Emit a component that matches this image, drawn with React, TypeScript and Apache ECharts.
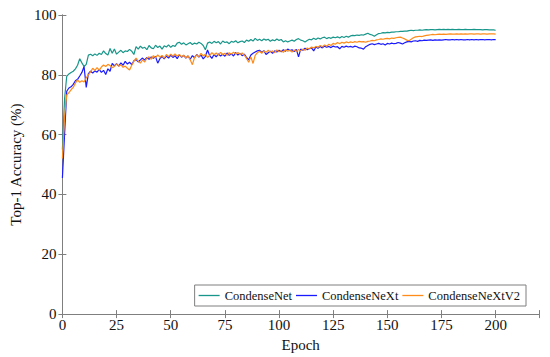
import React, { useEffect, useRef } from "react";
import * as echarts from "echarts";

const seriesNames = ["CondenseNet", "CondenseNeXt", "CondenseNeXtV2"];
const seriesColors = ["#18968a", "#1a1aff", "#ff8c1a"];

// Top-1 accuracy per epoch (epochs 0..200)
const condenseNet = [
  55, 72, 79.5, 80.3, 80.8, 81.2, 82.0, 83.2, 85.4, 84.0,
  82.8, 83.5, 86.6, 86.9, 86.4, 87.0, 86.5, 87.2, 86.8, 88.0,
  87.1, 86.6, 88.8, 87.2, 88.6, 86.9, 87.6, 88.2, 87.4, 88.0,
  87.8, 88.5, 87.9, 86.8, 89.4, 88.6, 89.6, 88.9, 89.2, 88.4,
  89.8, 89.0, 88.7, 89.9, 89.1, 89.6, 88.6, 89.7, 89.3, 90.0,
  89.2, 89.8, 89.5, 90.6, 90.9, 90.2, 90.7, 90.0, 90.4, 90.8,
  90.1, 90.6, 90.3, 90.9, 90.5, 89.8, 88.4, 90.6, 91.0, 90.5,
  91.2, 90.7, 91.1, 90.3, 91.3, 90.8, 91.0, 90.4, 91.2, 90.9,
  91.4, 90.7, 91.1, 91.3, 90.8, 91.6, 91.2, 91.8, 91.3, 92.2,
  91.5, 91.9, 91.4, 92.0, 91.6, 91.9, 91.2, 91.7, 91.4, 92.0,
  91.5, 91.8, 91.0, 91.4, 91.0, 91.3, 91.6, 91.2, 91.8, 92.1,
  91.6, 91.4, 91.0, 91.5, 91.9, 91.7, 92.2, 91.8, 92.3, 92.0,
  92.4, 92.6, 92.1, 92.5, 92.2, 92.6, 92.4, 92.7, 92.3, 92.8,
  92.5, 92.9, 92.6, 93.0, 93.2, 93.1, 93.3, 93.2, 93.4, 93.3,
  93.6, 93.9, 93.5, 93.3, 92.9, 93.4, 93.8, 93.9, 94.1, 94.0,
  94.2, 94.1, 94.3, 94.3, 94.4, 94.4, 94.5, 94.5, 94.6, 94.6,
  94.8, 94.9, 94.8, 94.9, 94.9, 95.0, 94.9, 95.0, 95.1, 95.0,
  95.1, 95.1, 95.0, 95.1, 95.2, 95.1, 95.2, 95.1, 95.2, 95.1,
  95.2, 95.1, 95.1, 95.2, 95.1, 95.1, 95.2, 95.1, 95.1, 95.1,
  95.2, 95.1, 95.1, 95.1, 95.0, 95.1, 95.1, 95.0, 95.0, 95.0,
  94.9,
];

const condenseNeXt = [
  45.5, 60, 74.5, 75.6, 76.0, 76.8, 78.0, 78.5, 79.6, 80.8,
  82.8, 75.8, 80.4, 81.2, 80.6, 81.3, 80.9, 81.8, 80.8, 81.5,
  80.1, 82.0, 81.2, 83.8, 83.0, 83.7, 82.9, 84.0, 83.2, 84.5,
  83.6, 84.2, 83.4, 84.7, 85.1, 84.3, 85.0, 85.6, 84.9, 85.8,
  85.2, 86.0, 85.5, 86.1, 83.9, 85.4, 86.2, 85.3, 86.3, 85.6,
  86.6, 85.8, 86.4, 85.4, 86.7, 85.9, 86.5, 85.6, 86.3, 85.2,
  86.4, 85.7, 86.8, 85.9, 86.6, 85.3, 86.2, 88.3, 86.4, 85.5,
  86.8, 86.0, 87.0, 86.3, 86.9, 86.2, 87.3, 86.5, 87.0, 86.3,
  87.4, 86.6, 87.1, 86.4, 86.9, 85.8, 85.0, 86.6, 87.2, 87.6,
  88.0, 88.2, 87.5, 88.1, 86.8, 87.4, 87.9, 87.2, 88.0, 87.6,
  88.2, 87.7, 88.4, 87.9, 88.6, 88.1, 88.4, 87.8, 88.5, 86.0,
  88.6, 88.2, 88.9, 88.4, 88.8, 89.0, 88.0, 89.3, 88.9, 89.5,
  89.0, 89.6, 89.2, 89.5, 89.1, 89.6, 89.3, 89.4, 88.7, 89.5,
  89.2, 89.6, 89.3, 89.5, 89.2, 89.6, 89.4, 89.0, 88.9, 88.6,
  89.4, 89.8, 90.2, 90.4, 90.1, 90.3, 90.5, 90.2, 90.4, 90.0,
  90.5, 90.3, 90.6, 90.4, 90.5, 90.8, 90.6, 90.3, 90.7, 91.0,
  91.2, 91.0, 91.3, 91.4, 91.2, 91.5, 91.4, 91.6, 91.5, 91.6,
  91.7, 91.5, 91.7, 91.6, 91.7, 91.6, 91.7, 91.8, 91.7, 91.7,
  91.8, 91.7, 91.8, 91.7, 91.8, 91.7, 91.7, 91.8, 91.7, 91.8,
  91.7, 91.8, 91.7, 91.8, 91.8, 91.7, 91.8, 91.8, 91.7, 91.8,
  91.8,
];

const condenseNeXtV2 = [
  52, 66, 73.3, 74.0, 75.0, 75.8, 77.2, 78.3, 77.5, 78.0,
  77.6, 79.0, 80.0, 81.0, 82.2, 81.5, 82.4, 81.6, 82.6, 83.3,
  82.8, 83.5, 83.1, 82.4, 82.8, 83.6, 82.9, 83.4, 82.5, 82.9,
  82.2, 81.6, 83.2, 84.5, 85.6, 84.6, 83.9, 85.0, 84.3, 85.6,
  86.0, 85.2, 86.4, 85.7, 86.7, 85.9, 86.5, 85.6, 86.8, 86.1,
  86.9, 86.3, 87.0, 86.2, 86.8, 86.0, 86.6, 85.7, 86.4, 85.0,
  83.4, 85.8, 86.7, 86.0, 87.2, 86.3, 86.9, 85.8, 86.5, 87.4,
  86.7, 87.3, 86.6, 87.5, 86.8, 87.2, 86.5, 87.4, 86.9, 87.6,
  87.0, 87.5, 86.8, 87.3, 86.6, 85.5, 84.2, 86.0, 83.8, 86.5,
  87.4, 87.9, 87.2, 88.0, 87.5, 88.2, 87.6, 88.0, 87.4, 88.3,
  87.7, 88.1, 87.5, 88.4, 87.9, 88.2, 87.6, 88.3, 87.8, 88.5,
  88.0, 88.6, 88.2, 89.0, 88.6, 89.3, 89.0, 89.5, 89.2, 89.8,
  89.4, 90.0, 89.6, 90.2, 89.8, 90.5, 90.2, 90.8, 90.4, 90.9,
  90.6, 91.0, 90.7, 91.0, 90.8, 91.1, 90.9, 91.2, 91.0, 91.1,
  90.9, 91.2, 91.3, 91.5, 91.4, 91.7, 91.8, 92.0, 91.9, 92.1,
  92.2, 92.0, 92.3, 92.2, 92.4, 92.5, 92.6, 92.3, 92.0, 91.6,
  91.4, 91.9, 92.4, 92.7, 92.8, 92.9, 92.8, 93.0, 93.2, 93.3,
  93.4, 93.5, 93.4, 93.5, 93.6, 93.5, 93.6, 93.5, 93.6, 93.7,
  93.6, 93.6, 93.7, 93.6, 93.7, 93.6, 93.7, 93.6, 93.7, 93.7,
  93.6, 93.7, 93.7, 93.6, 93.7, 93.7, 93.6, 93.7, 93.7, 93.7,
  93.6,
];

const allSeries = [condenseNet, condenseNeXt, condenseNeXtV2];

const FONT = "Liberation Serif";
const AXIS_GRAY = "#7f7f7f";
const TEXT_COLOR = "#111111";

export default function App() {
  const ref = useRef<HTMLDivElement>(null);

  useEffect(() => {
    if (!ref.current) return;
    const chart = echarts.init(ref.current, null, { renderer: "svg" });

    const hiddenAxisCommon = {
      axisLine: { show: true, lineStyle: { color: AXIS_GRAY, width: 1 } },
      axisTick: { show: true, inside: true, length: 4, lineStyle: { color: AXIS_GRAY } },
      axisLabel: { show: false },
      splitLine: { show: false },
    };

    chart.setOption({
      animation: false,
      backgroundColor: "#ffffff",
      textStyle: { fontFamily: FONT },
      grid: { left: 60, right: 11, top: 15, bottom: 42, containLabel: false },
      legend: {
        right: 24,
        top: 285,
        orient: "horizontal",
        data: seriesNames.map((n, i) => ({
          name: n,
          icon: "rect",
          itemStyle: { color: seriesColors[i] },
        })),
        itemWidth: 21,
        itemHeight: 1.3,
        itemGap: 4,
        padding: [3, 6, 3, 4],
        borderColor: AXIS_GRAY,
        borderWidth: 1,
        backgroundColor: "#ffffff",
        textStyle: { fontFamily: FONT, fontSize: 12.5, color: TEXT_COLOR, lineHeight: 15 },
      },
      xAxis: [
        {
          type: "value",
          position: "bottom",
          min: 0,
          max: 220,
          interval: 25,
          name: "Epoch",
          nameLocation: "middle",
          nameGap: 21,
          nameTextStyle: { fontFamily: FONT, fontSize: 15, color: TEXT_COLOR },
          axisLine: { show: true, lineStyle: { color: AXIS_GRAY, width: 1 } },
          axisTick: { show: true, inside: true, length: 4, lineStyle: { color: AXIS_GRAY } },
          axisLabel: {
            show: true,
            margin: 3,
            fontFamily: FONT,
            fontSize: 15,
            color: TEXT_COLOR,
            formatter: (v: number) => (v <= 200 ? String(v) : ""),
          },
          splitLine: { show: false },
        },
        {
          type: "value",
          position: "top",
          min: 0,
          max: 220,
          interval: 25,
          ...hiddenAxisCommon,
        },
      ],
      yAxis: [
        {
          type: "value",
          position: "left",
          min: 0,
          max: 100,
          interval: 20,
          name: "Top-1 Accuracy (%)",
          nameLocation: "middle",
          nameGap: 38,
          nameTextStyle: { fontFamily: FONT, fontSize: 15, color: TEXT_COLOR },
          axisLine: { show: true, lineStyle: { color: AXIS_GRAY, width: 1 } },
          axisTick: { show: true, inside: true, length: 4, lineStyle: { color: AXIS_GRAY } },
          axisLabel: { show: true, margin: 6, fontFamily: FONT, fontSize: 15, color: TEXT_COLOR },
          splitLine: { show: false },
        },
        {
          type: "value",
          position: "right",
          min: 0,
          max: 100,
          interval: 20,
          ...hiddenAxisCommon,
        },
      ],
      series: allSeries.map((vals, i) => ({
        name: seriesNames[i],
        type: "line",
        xAxisIndex: 0,
        yAxisIndex: 0,
        data: vals.map((v, epoch) => [epoch, v]),
        showSymbol: false,
        symbol: "none",
        smooth: false,
        lineStyle: { color: seriesColors[i], width: 1.2 },
        itemStyle: { color: seriesColors[i] },
        z: 2 + i,
      })),
    });

    return () => chart.dispose();
  }, []);

  return (
    <div
      ref={ref}
      style={{ position: "absolute", left: 0, top: 0, width: 550, height: 357, background: "#fff" }}
    />
  );
}
